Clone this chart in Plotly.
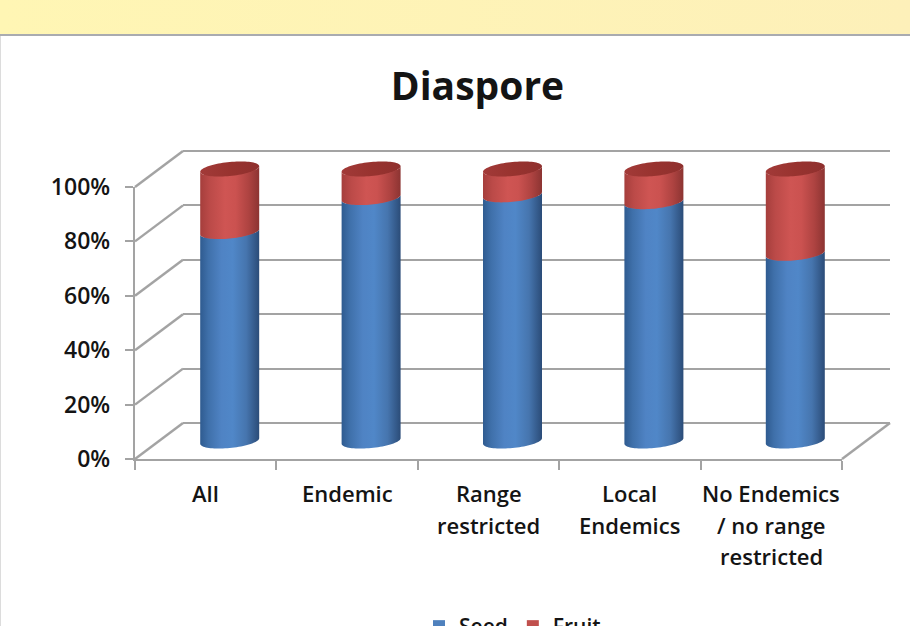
import numpy as np
import plotly.graph_objects as go

# Chart data
categories = [["All"], ["Endemic"], ["Range", "restricted"], ["Local", "Endemics"],
              ["No Endemics", "/ no range", "restricted"]]
seed_pct = [77, 89.5, 90.5, 88, 69]
fruit_pct = [23, 10.5, 9.5, 12, 31]
y_ticks = [0, 20, 40, 60, 80, 100]

W, H = 910, 652
FONT = "'Open Sans', Lato, sans-serif"
INK = "#141414"
RULE = "#a3a3a3"
RULE_W = 2.4

# Oblique projection of the box: floor front corner, plot size, and depth offset in pixels
FRONT_LEFT, FRONT_FLOOR = 135, 459
PLOT_W, PLOT_H = 707, 272
DEPTH_X, DEPTH_Y = 48, 36
PX_PER_PCT = PLOT_H / 100
PX_PER_CAT = PLOT_W / len(categories)

BAR_RADIUS_PX = 29.5
CAP_MINOR_PX = 7.0
CAP_TILT_PX = 2.8

# Percentage headroom on the wall and column axes so nothing at 0 or 100 gets clipped
PAD = 8


def xdom(left):
    return [left / W, (left + PLOT_W) / W]


def ydom(floor, pad=0):
    extra = pad * PX_PER_PCT
    return [1 - (floor + extra) / H, 1 - (floor - PLOT_H - extra) / H]


def fx(px):
    return px / W


def fy(px):
    return 1 - px / H


def front_arc(cx, v, reverse=False):
    """Front half of a tilted cylinder section, in axis units."""
    t = np.linspace(0, np.pi, 41)
    if reverse:
        t = t[::-1]
    xs = cx + BAR_RADIUS_PX * np.cos(t) / PX_PER_CAT
    off = CAP_MINOR_PX * np.sin(t) - CAP_TILT_PX * np.cos(t)
    return xs, v - off / PX_PER_PCT


def back_arc(cx, v):
    t = np.linspace(np.pi, 2 * np.pi, 41)
    xs = cx + BAR_RADIUS_PX * np.cos(t) / PX_PER_CAT
    off = CAP_MINOR_PX * np.sin(t) - CAP_TILT_PX * np.cos(t)
    return xs, v - off / PX_PER_PCT


BLUE_SHADE = [[0, "#2f5b90"], [0.14, "#3f70aa"], [0.36, "#4f83c4"], [0.55, "#5087c8"],
              [0.78, "#4675ae"], [1, "#2b4c78"]]
RED_SHADE = [[0, "#a53e3c"], [0.16, "#bb4a48"], [0.42, "#cf5553"], [0.6, "#cb5250"],
             [0.82, "#ae4341"], [1, "#8c3432"]]
CAP_SHADE = [[0, "#a23a38"], [0.5, "#98332f"], [1, "#8f302e"]]

fig = go.Figure()

# Header band across the top of the slide
fig.add_trace(go.Scatter(
    x=[0, W, W, 0, 0], y=[0, 0, 34, 34, 0], xaxis="x", yaxis="y", mode="none", fill="toself",
    fillgradient=dict(type="horizontal", colorscale=[[0, "#fff6b4"], [1, "#fdf0b9"]]),
    hoverinfo="skip", showlegend=False,
))

# Empty traces keep the back wall and front axes as live subplots
fig.add_trace(go.Scatter(x=[None], y=[None], xaxis="x2", yaxis="y2", showlegend=False))
fig.add_trace(go.Scatter(x=[None], y=[None], xaxis="x3", yaxis="y3", showlegend=False))

# Stacked columns on the mid-depth axes
positions = list(range(len(categories)))
fig.add_trace(go.Bar(x=positions, y=seed_pct, name="Seed", width=0.36, xaxis="x4", yaxis="y4",
                     marker=dict(color="#4f81bd", line_width=0), hoverinfo="skip"))
fig.add_trace(go.Bar(x=positions, y=fruit_pct, name="Fruit", width=0.36, xaxis="x4", yaxis="y4",
                     marker=dict(color="#c0504d", line_width=0), hoverinfo="skip"))

# Rounded, shaded cylinder skins over each column
for i, (s, f) in enumerate(zip(seed_pct, fruit_pct)):
    total = s + f
    for low, high, shade in ((0, s, BLUE_SHADE), (s, total, RED_SHADE)):
        xa, ya = front_arc(i, low)
        xb, yb = front_arc(i, high, reverse=True)
        fig.add_trace(go.Scatter(
            x=np.r_[xa[::-1], xb[::-1]].tolist(), y=np.r_[ya[::-1], yb[::-1]].tolist(),
            xaxis="x4", yaxis="y4", mode="none", fill="toself",
            fillgradient=dict(type="horizontal", colorscale=shade),
            hoverinfo="skip", showlegend=False,
        ))
    xa, ya = front_arc(i, total)
    xb, yb = back_arc(i, total)
    fig.add_trace(go.Scatter(
        x=np.r_[xa, xb].tolist(), y=np.r_[ya, yb].tolist(),
        xaxis="x4", yaxis="y4", mode="none", fill="toself",
        fillgradient=dict(type="horizontal", colorscale=CAP_SHADE),
        hoverinfo="skip", showlegend=False,
    ))

# Side-wall rules and the right floor edge of the box
shapes = [dict(type="line", xref="paper", yref="paper",
               x0=fx(FRONT_LEFT), y0=fy(FRONT_FLOOR - v * PX_PER_PCT),
               x1=fx(FRONT_LEFT + DEPTH_X), y1=fy(FRONT_FLOOR - v * PX_PER_PCT - DEPTH_Y),
               line=dict(color=RULE, width=RULE_W), layer="below") for v in y_ticks]
shapes.append(dict(type="line", xref="paper", yref="paper",
                   x0=fx(FRONT_LEFT + PLOT_W), y0=fy(FRONT_FLOOR),
                   x1=fx(FRONT_LEFT + PLOT_W + DEPTH_X), y1=fy(FRONT_FLOOR - DEPTH_Y),
                   line=dict(color=RULE, width=RULE_W), layer="below"))
# Rule under the header band and the faint frame edge
shapes.append(dict(type="line", xref="paper", yref="paper", x0=0, x1=1, y0=fy(35), y1=fy(35),
                   line=dict(color="#a9abb0", width=2), layer="below"))
shapes.append(dict(type="line", xref="paper", yref="paper", x0=fx(0.5), x1=fx(0.5), y0=0, y1=fy(36),
                   line=dict(color="#dcdcdc", width=1), layer="below"))

# Category labels, one annotation per line
LABEL_TOP, LINE_STEP = 493, 31.5
annotations = []
for i, lines in enumerate(categories):
    for j, text in enumerate(lines):
        annotations.append(dict(
            text=text, xref="x3", x=i + 0.5, yref="paper", y=fy(LABEL_TOP + j * LINE_STEP),
            showarrow=False, xanchor="center", yanchor="middle",
            font=dict(family=FONT, size=22, color=INK, weight=600),
        ))

hidden = dict(visible=False, fixedrange=True)
fig.update_layout(
    width=W, height=H, margin=dict(l=0, r=0, t=0, b=0, autoexpand=False),
    paper_bgcolor="#ffffff", plot_bgcolor="rgba(0,0,0,0)",
    barmode="stack", shapes=shapes, annotations=annotations,
    title=dict(text="Diaspore", x=477.5 / W, xanchor="center", xref="paper",
               y=fy(86), yanchor="middle", yref="paper",
               font=dict(family=FONT, size=39, color=INK, weight=700)),
    legend=dict(orientation="h", x=fx(419), xanchor="left", y=fy(606), yanchor="top",
                font=dict(family=FONT, size=21, color=INK, weight=600), bgcolor="rgba(0,0,0,0)",
                traceorder="normal", itemclick=False, itemdoubleclick=False),
    # Page-sized axes for the header band
    xaxis=dict(domain=[0, 1], range=[0, W], **hidden),
    yaxis=dict(domain=[0, 1], range=[H, 0], **hidden),
    # Back wall with its gridlines
    xaxis2=dict(domain=xdom(FRONT_LEFT + DEPTH_X), range=[0, 5], anchor="y2", visible=False, fixedrange=True),
    yaxis2=dict(domain=ydom(FRONT_FLOOR - DEPTH_Y, PAD), range=[-PAD, 100 + PAD], anchor="x2",
                tickvals=y_ticks, showgrid=True, gridcolor=RULE, gridwidth=RULE_W, zeroline=False,
                showline=False, ticks="", showticklabels=False, fixedrange=True),
    # Front axes carrying the ticks and percentage labels
    xaxis3=dict(domain=xdom(FRONT_LEFT), range=[0, 5], anchor="y3", tickvals=list(range(6)),
                showgrid=False, zeroline=False, showline=True, linecolor=RULE, linewidth=RULE_W,
                ticks="outside", ticklen=9, tickcolor=RULE, tickwidth=2, showticklabels=False,
                fixedrange=True),
    yaxis3=dict(domain=ydom(FRONT_FLOOR), range=[0, 100], anchor="x3", tickvals=y_ticks,
                ticktext=[f"{v}%" for v in y_ticks], showgrid=False, zeroline=False,
                showline=True, linecolor=RULE, linewidth=RULE_W, ticks="outside", ticklen=8,
                tickcolor=RULE, tickwidth=2, ticklabelstandoff=10,
                tickfont=dict(family=FONT, size=23, color=INK, weight=600), fixedrange=True),
    # Mid-depth axes the columns stand on
    xaxis4=dict(domain=xdom(FRONT_LEFT + DEPTH_X / 2), range=[-0.5, 4.5], anchor="y4", **hidden),
    yaxis4=dict(domain=ydom(FRONT_FLOOR - DEPTH_Y / 2, PAD), range=[-PAD, 100 + PAD], anchor="x4", **hidden),
)

fig.write_html("out.html")
